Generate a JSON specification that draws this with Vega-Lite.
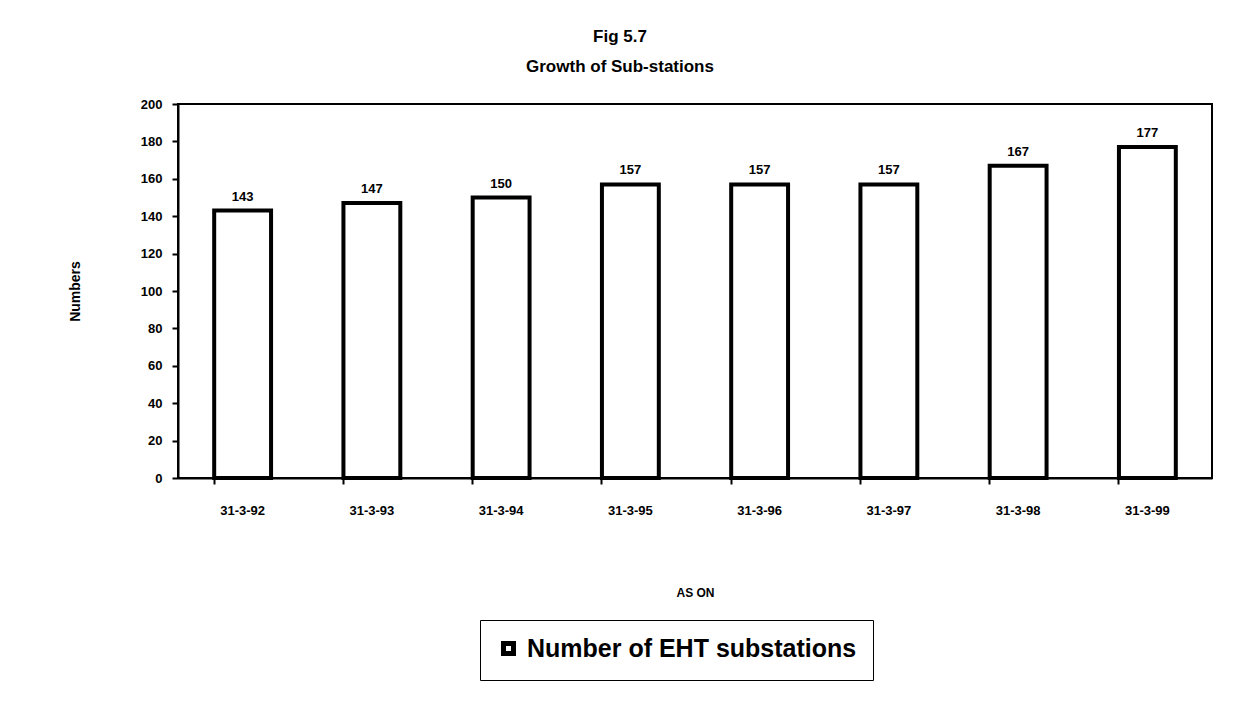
{
  "$schema": "https://vega.github.io/schema/vega-lite/v6.json",
  "autosize": "none",
  "width": 1034,
  "height": 374,
  "padding": {"left": 178, "top": 104, "right": 28, "bottom": 229},
  "background": "white",
  "config": {
    "font": "Liberation Sans",
    "view": {"stroke": "black", "strokeWidth": 2}
  },
  "title": {
    "text": ["Fig 5.7", "Growth of Sub-stations"],
    "anchor": "middle",
    "dx": -75,
    "fontSize": 17,
    "fontWeight": "bold",
    "lineHeight": 30,
    "offset": 22,
    "color": "black"
  },
  "data": {
    "values": [
      {"date": "31-3-92", "value": 143, "series": "Number of EHT substations"},
      {"date": "31-3-93", "value": 147, "series": "Number of EHT substations"},
      {"date": "31-3-94", "value": 150, "series": "Number of EHT substations"},
      {"date": "31-3-95", "value": 157, "series": "Number of EHT substations"},
      {"date": "31-3-96", "value": 157, "series": "Number of EHT substations"},
      {"date": "31-3-97", "value": 157, "series": "Number of EHT substations"},
      {"date": "31-3-98", "value": 167, "series": "Number of EHT substations"},
      {"date": "31-3-99", "value": 177, "series": "Number of EHT substations"}
    ]
  },
  "encoding": {
    "x": {
      "field": "date",
      "type": "nominal",
      "sort": null,
      "scale": {"paddingInner": 0.56},
      "axis": {
        "title": "AS ON",
        "titleFontSize": 12,
        "titleFontWeight": "bold",
        "titlePadding": 70,
        "labelAngle": 0,
        "labelFontSize": 13,
        "labelFontWeight": "bold",
        "labelPadding": 20,
        "labelColor": "black",
        "titleColor": "black",
        "domainColor": "black",
        "domainWidth": 2,
        "tickColor": "black",
        "tickSize": 6,
        "tickWidth": 2,
        "bandPosition": 0
      }
    },
    "y": {
      "field": "value",
      "type": "quantitative",
      "scale": {"domain": [0, 200]},
      "axis": {
        "title": "Numbers",
        "titleFontSize": 14,
        "titleFontWeight": "bold",
        "titlePadding": 58,
        "titleColor": "black",
        "values": [0, 20, 40, 60, 80, 100, 120, 140, 160, 180, 200],
        "labelFontSize": 13,
        "labelFontWeight": "bold",
        "labelColor": "black",
        "labelPadding": 10,
        "grid": false,
        "domainColor": "black",
        "domainWidth": 2,
        "tickColor": "black",
        "tickSize": 6,
        "tickWidth": 2
      }
    }
  },
  "layer": [
    {
      "mark": {"type": "bar", "fill": "white", "strokeWidth": 4},
      "encoding": {
        "stroke": {
          "field": "series",
          "type": "nominal",
          "scale": {"range": ["black"]},
          "legend": {
            "title": null,
            "orient": "none",
            "legendX": 302,
            "legendY": 516,
            "padding": 16,
            "strokeColor": "black",
            "fillColor": "white",
            "symbolType": "square",
            "symbolSize": 100,
            "symbolStrokeWidth": 5,
            "labelFontSize": 25,
            "labelFontWeight": "bold",
            "labelColor": "black",
            "labelLimit": 600,
            "labelOffset": 6
          }
        }
      }
    },
    {
      "mark": {"type": "text", "dy": -14, "fontSize": 13, "fontWeight": "bold", "color": "black"},
      "encoding": {"text": {"field": "value", "type": "quantitative"}}
    }
  ]
}
